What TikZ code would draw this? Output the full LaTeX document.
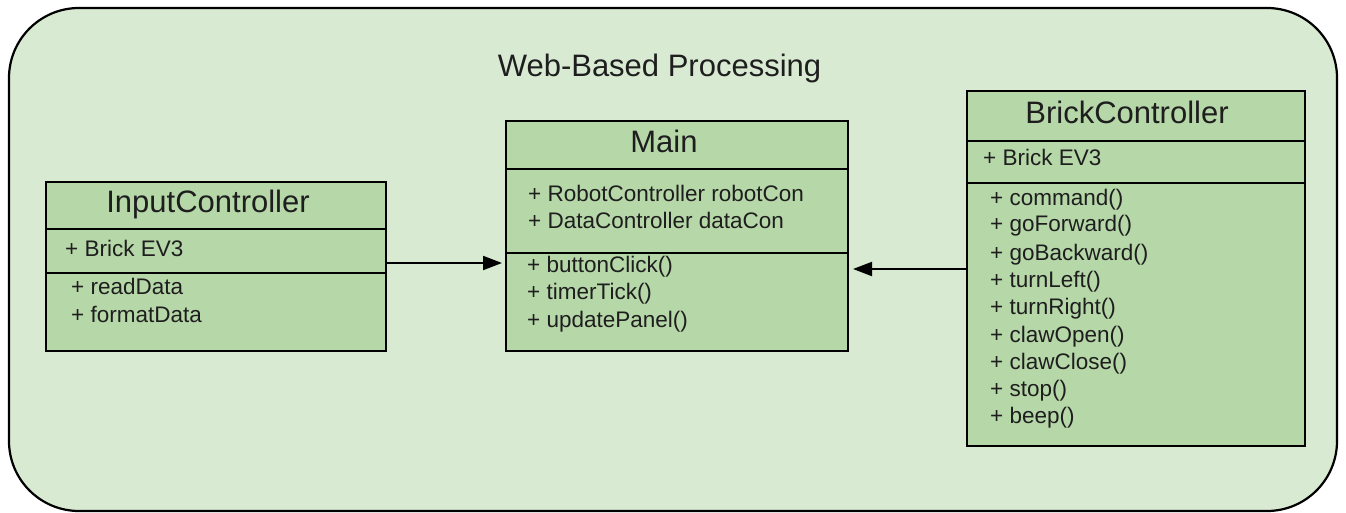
\documentclass[tikz,border=0pt]{standalone}
\usepackage{fontspec}
\setmainfont{Liberation Sans}
\usetikzlibrary{arrows.meta}
\definecolor{bgc}{HTML}{D9EAD3}
\definecolor{boxc}{HTML}{B6D7A8}
\definecolor{txt}{HTML}{1E1E1E}
\begin{document}
\begin{tikzpicture}[x=1pt,y=-1pt,
  frame/.style={draw=black, line width=2pt, fill=boxc, inner sep=0pt, outer sep=0pt, anchor=north west},
  divider/.style={draw=black, line width=2pt},
  ctitle/.style={anchor=base, font=\fontsize{31}{36}\selectfont, text=txt, inner sep=0pt},
  member/.style={anchor=base west, font=\fontsize{22.5}{27}\selectfont, text=txt, inner sep=0pt},
  arr/.style={draw=black, line width=2pt, -{Triangle[length=19pt,width=14pt]}}
]
\useasboundingbox (0,0) rectangle (1346,513);
% package
\node[draw=black, line width=2.2pt, fill=bgc, rounded corners=70pt, minimum width=1328pt, minimum height=503pt, anchor=north west, inner sep=0pt, outer sep=0pt] (pkg) at (9,8) {};
\node[ctitle] (pkgtitle) at (659.5,77) {Web-Based Processing};

% InputController
\node[frame, minimum width=340pt, minimum height=169pt] (ic) at (46,182) {};
\draw[divider] (ic.west |- 0,229) -- (ic.east |- 0,229);
\draw[divider] (ic.west |- 0,273) -- (ic.east |- 0,273);
\node[ctitle] (ictitle) at (208,213) {InputController};
\node[member] (ica1) at (65,256) {+ Brick EV3};
\node[member] (icm1) at (71,294) {+ readData};
\node[member] (icm2) at (71,322) {+ formatData};

% Main
\node[frame, minimum width=342pt, minimum height=230pt] (main) at (506,121) {};
\draw[divider] (main.west |- 0,169) -- (main.east |- 0,169);
\draw[divider] (main.west |- 0,253) -- (main.east |- 0,253);
\node[ctitle] (maintitle) at (664,153) {Main};
\node[member] (maina1) at (528,202) {+ RobotController robotCon};
\node[member] (maina2) at (528,229) {+ DataController dataCon};
\node[member] (mainm1) at (527,272) {+ buttonClick()};
\node[member] (mainm2) at (527,299) {+ timerTick()};
\node[member] (mainm3) at (527,327) {+ updatePanel()};

% BrickController
\node[frame, minimum width=338pt, minimum height=355pt] (bc) at (967,91) {};
\draw[divider] (bc.west |- 0,141) -- (bc.east |- 0,141);
\draw[divider] (bc.west |- 0,183) -- (bc.east |- 0,183);
\node[ctitle] (bctitle) at (1127,124) {BrickController};
\node[member] (bca1) at (983,166) {+ Brick EV3};
\node[member] (bcm1) at (990,205) {+ command()};
\node[member] (bcm2) at (990,232) {+ goForward()};
\node[member] (bcm3) at (990,260) {+ goBackward()};
\node[member] (bcm4) at (990,287) {+ turnLeft()};
\node[member] (bcm5) at (990,314) {+ turnRight()};
\node[member] (bcm6) at (990,342) {+ clawOpen()};
\node[member] (bcm7) at (990,369) {+ clawClose()};
\node[member] (bcm8) at (990,396) {+ stop()};
\node[member] (bcm9) at (990,423) {+ beep()};

% connectors
\draw[arr, shorten >=4pt] (ic.east |- 0,263) -- (main.west |- 0,263);
\draw[arr, shorten >=5pt] (bc.west |- 0,269) -- (main.east |- 0,269);
\end{tikzpicture}
\end{document}
